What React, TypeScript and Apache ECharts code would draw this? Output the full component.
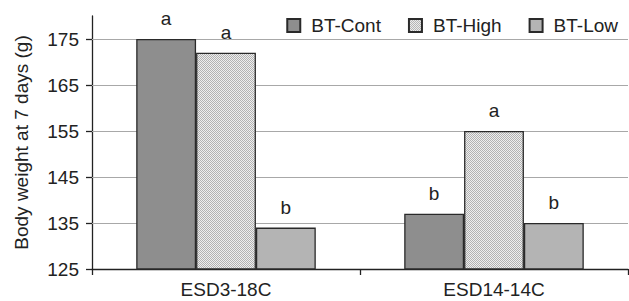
import React, { useEffect, useRef } from "react";
import * as echarts from "echarts";

const categories = ["ESD3-18C", "ESD14-14C"];
const seriesNames = ["BT-Cont", "BT-High", "BT-Low"];
const contValues = [175, 137];
const highValues = [172, 155];
const lowValues = [134, 135];
const contLetters = ["a", "b"];
const highLetters = ["a", "a"];
const lowLetters = ["b", "b"];
const yTicks = [125, 135, 145, 155, 165, 175];
const yMin = 125;
const yMax = 180;

function makePattern() {
  const c = document.createElement("canvas");
  c.width = 2;
  c.height = 2;
  const ctx = c.getContext("2d")!;
  ctx.fillStyle = "#eeeeee";
  ctx.fillRect(0, 0, 2, 2);
  ctx.fillStyle = "#b2b2b2";
  ctx.fillRect(0, 0, 1, 1);
  ctx.fillRect(1, 1, 1, 1);
  return c;
}

export default function App() {
  const ref = useRef<HTMLDivElement>(null);
  useEffect(() => {
    if (!ref.current) return;
    const chart = echarts.init(ref.current, undefined, { renderer: "svg" });
    const font = "'Liberation Sans', Arial, sans-serif";
    const textColor = "#222";
    const fs = 19;
    const border = { borderColor: "#2a2a2a", borderWidth: 1.3 };
    const pattern = {
      image: makePattern(),
      repeat: "repeat",
      imageWidth: 2,
      imageHeight: 2,
    };
    const mkLabel = (letters: string[]) => ({
      show: true,
      position: "top",
      distance: 11,
      fontSize: fs,
      fontFamily: font,
      color: textColor,
      formatter: (p: any) => letters[p.dataIndex],
    });
    chart.setOption({
      animation: false,
      backgroundColor: "#fff",
      textStyle: { fontFamily: font },
      grid: { left: 92, right: 1, top: 16, bottom: 32, containLabel: false },
      legend: {
        data: seriesNames,
        right: 11,
        top: 16,
        padding: 0,
        icon: "rect",
        itemWidth: 13,
        itemHeight: 13,
        itemGap: 27,
        textStyle: { fontSize: fs, color: textColor, fontFamily: font, padding: [0, 0, 0, 6] },
      },
      xAxis: {
        type: "category",
        data: categories,
        axisLine: { lineStyle: { color: "#222", width: 1.3 } },
        axisTick: { show: true, length: 6, lineStyle: { color: "#222", width: 1.3 } },
        axisLabel: { fontSize: fs, color: textColor, margin: 11, fontFamily: font },
        splitLine: { show: false },
      },
      yAxis: {
        type: "value",
        min: yMin,
        max: yMax,
        name: "Body weight at 7 days (g)",
        nameLocation: "middle",
        nameGap: 61,
        nameTextStyle: { fontSize: fs, color: textColor, fontFamily: font },
        axisLine: { show: true, lineStyle: { color: "#222", width: 1.3 } },
        axisTick: { show: true, length: 6, customValues: yTicks, lineStyle: { color: "#222", width: 1.3 } },
        axisLabel: { fontSize: fs, color: textColor, margin: 13, customValues: yTicks, fontFamily: font },
        splitLine: { show: false },
      },
      series: [
        {
          name: seriesNames[0],
          type: "bar",
          data: contValues,
          barGap: "0%",
          barCategoryGap: "33%",
          itemStyle: { color: "#8e8e8e", ...border },
          label: mkLabel(contLetters),
          markLine: {
            silent: true,
            symbol: "none",
            label: { show: false },
            lineStyle: { color: "#a8a8a8", width: 1, type: "solid" },
            data: yTicks.slice(1).map((v) => ({ yAxis: v })),
            z: 1,
          },
          z: 3,
        },
        {
          name: seriesNames[1],
          type: "bar",
          data: highValues,
          barGap: "0%",
          barCategoryGap: "33%",
          itemStyle: { color: pattern, ...border },
          label: mkLabel(highLetters),
          z: 3,
        },
        {
          name: seriesNames[2],
          type: "bar",
          data: lowValues,
          barGap: "0%",
          barCategoryGap: "33%",
          itemStyle: { color: "#b4b4b4", ...border },
          label: mkLabel(lowLetters),
          z: 3,
        },
      ],
    });
    return () => chart.dispose();
  }, []);
  return <div ref={ref} style={{ width: 629, height: 301, position: "absolute", left: 0, top: 0 }} />;
}
